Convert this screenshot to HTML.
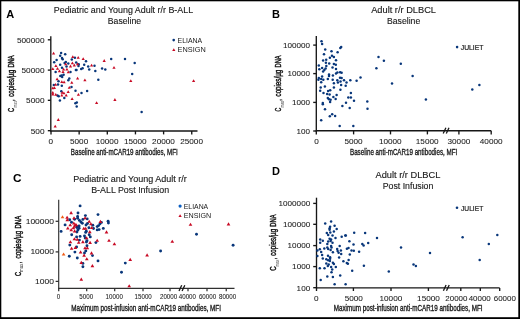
<!DOCTYPE html>
<html><head><meta charset="utf-8"><style>
html,body{margin:0;padding:0;background:#fff;}
body{width:520px;height:319px;overflow:hidden;}
svg{display:block;font-family:"Liberation Sans", sans-serif;filter:blur(0.25px);}
</style></head><body>
<svg width="520" height="319" viewBox="0 0 520 319">
<rect width="520" height="319" fill="#fff"/>
<rect x="0" y="0" width="1.3" height="319" fill="#000"/>
<rect x="0" y="0" width="520" height="1.3" fill="#000"/>
<rect x="518.3" y="0" width="1.7" height="319" fill="#000"/>
<rect x="0" y="317.2" width="520" height="1.8" fill="#000"/>
<text x="6.3" y="17.5" font-size="11" font-weight="bold" text-anchor="start" fill="#000">A</text>
<text x="272.0" y="17.7" font-size="11" font-weight="bold" text-anchor="start" fill="#000">B</text>
<text x="12.9" y="182.2" font-size="11.8" font-weight="bold" text-anchor="start" fill="#000">C</text>
<text x="272.0" y="174.8" font-size="11" font-weight="bold" text-anchor="start" fill="#000">D</text>
<text x="53.8" y="12.8" font-size="8.7" text-anchor="start" fill="#1a1a1a" textLength="139.3" lengthAdjust="spacingAndGlyphs" stroke="#111" stroke-width="0.12">Pediatric and Young Adult r/r B-ALL</text>
<text x="107.8" y="23.9" font-size="8.7" text-anchor="start" fill="#1a1a1a" textLength="33.3" lengthAdjust="spacingAndGlyphs" stroke="#111" stroke-width="0.12">Baseline</text>
<text x="371.2" y="12.6" font-size="8.7" text-anchor="start" fill="#1a1a1a" textLength="64.8" lengthAdjust="spacingAndGlyphs" stroke="#111" stroke-width="0.12">Adult r/r DLBCL</text>
<text x="387.0" y="24.2" font-size="8.7" text-anchor="start" fill="#1a1a1a" textLength="33.2" lengthAdjust="spacingAndGlyphs" stroke="#111" stroke-width="0.12">Baseline</text>
<text x="73.2" y="181.7" font-size="8.7" text-anchor="start" fill="#1a1a1a" textLength="113.5" lengthAdjust="spacingAndGlyphs" stroke="#111" stroke-width="0.12">Pediatric and Young Adult r/r</text>
<text x="91.2" y="193.3" font-size="8.7" text-anchor="start" fill="#1a1a1a" textLength="78.0" lengthAdjust="spacingAndGlyphs" stroke="#111" stroke-width="0.12">B-ALL Post Infusion</text>
<text x="375.5" y="177.5" font-size="8.7" text-anchor="start" fill="#1a1a1a" textLength="64.9" lengthAdjust="spacingAndGlyphs" stroke="#111" stroke-width="0.12">Adult r/r DLBCL</text>
<text x="382.7" y="188.5" font-size="8.7" text-anchor="start" fill="#1a1a1a" textLength="50.7" lengthAdjust="spacingAndGlyphs" stroke="#111" stroke-width="0.12">Post Infusion</text>
<line x1="50.8" y1="36.3" x2="50.8" y2="131.55" stroke="#161616" stroke-width="1.35"/>
<line x1="50.25" y1="131.0" x2="197.5" y2="131.0" stroke="#161616" stroke-width="1.35"/>
<line x1="47.8" y1="39.8" x2="50.8" y2="39.8" stroke="#161616" stroke-width="1.35"/>
<line x1="47.8" y1="70.1" x2="50.8" y2="70.1" stroke="#161616" stroke-width="1.35"/>
<line x1="47.8" y1="100.3" x2="50.8" y2="100.3" stroke="#161616" stroke-width="1.35"/>
<line x1="47.8" y1="130.7" x2="50.8" y2="130.7" stroke="#161616" stroke-width="1.35"/>
<text x="16.9" y="42.6" font-size="8.0" text-anchor="start" fill="#1a1a1a" textLength="27.6" lengthAdjust="spacingAndGlyphs" stroke="#1a1a1a" stroke-width="0.06">500000</text>
<text x="21.5" y="72.9" font-size="8.0" text-anchor="start" fill="#1a1a1a" textLength="23.0" lengthAdjust="spacingAndGlyphs" stroke="#1a1a1a" stroke-width="0.06">50000</text>
<text x="26.1" y="103.1" font-size="8.0" text-anchor="start" fill="#1a1a1a" textLength="18.4" lengthAdjust="spacingAndGlyphs" stroke="#1a1a1a" stroke-width="0.06">5000</text>
<text x="30.7" y="133.5" font-size="8.0" text-anchor="start" fill="#1a1a1a" textLength="13.8" lengthAdjust="spacingAndGlyphs" stroke="#1a1a1a" stroke-width="0.06">500</text>
<line x1="51.0" y1="131" x2="51.0" y2="134.4" stroke="#161616" stroke-width="1.35"/>
<line x1="79.15" y1="131" x2="79.15" y2="134.4" stroke="#161616" stroke-width="1.35"/>
<line x1="107.3" y1="131" x2="107.3" y2="134.4" stroke="#161616" stroke-width="1.35"/>
<line x1="135.45" y1="131" x2="135.45" y2="134.4" stroke="#161616" stroke-width="1.35"/>
<line x1="163.6" y1="131" x2="163.6" y2="134.4" stroke="#161616" stroke-width="1.35"/>
<line x1="191.75" y1="131" x2="191.75" y2="134.4" stroke="#161616" stroke-width="1.35"/>
<text x="48.52" y="143.8" font-size="8.0" text-anchor="start" fill="#1a1a1a" textLength="4.55" lengthAdjust="spacingAndGlyphs" stroke="#1a1a1a" stroke-width="0.06">0</text>
<text x="70.0" y="143.8" font-size="8.0" text-anchor="start" fill="#1a1a1a" textLength="18.2" lengthAdjust="spacingAndGlyphs" stroke="#1a1a1a" stroke-width="0.06">5000</text>
<text x="95.72" y="143.8" font-size="8.0" text-anchor="start" fill="#1a1a1a" textLength="22.75" lengthAdjust="spacingAndGlyphs" stroke="#1a1a1a" stroke-width="0.06">10000</text>
<text x="123.93" y="143.8" font-size="8.0" text-anchor="start" fill="#1a1a1a" textLength="22.75" lengthAdjust="spacingAndGlyphs" stroke="#1a1a1a" stroke-width="0.06">15000</text>
<text x="152.12" y="143.8" font-size="8.0" text-anchor="start" fill="#1a1a1a" textLength="22.75" lengthAdjust="spacingAndGlyphs" stroke="#1a1a1a" stroke-width="0.06">20000</text>
<text x="180.22" y="143.8" font-size="8.0" text-anchor="start" fill="#1a1a1a" textLength="22.75" lengthAdjust="spacingAndGlyphs" stroke="#1a1a1a" stroke-width="0.06">25000</text>
<text x="70.8" y="154.6" font-size="9.3" text-anchor="start" fill="#1a1a1a" textLength="106.9" lengthAdjust="spacingAndGlyphs" stroke="#1a1a1a" stroke-width="0.35">Baseline anti-mCAR19 antibodies, MFI</text>
<line x1="316.3" y1="36.1" x2="316.3" y2="131.55" stroke="#161616" stroke-width="1.35"/>
<line x1="315.75" y1="130.7" x2="491.2" y2="130.7" stroke="#161616" stroke-width="1.35"/>
<line x1="313.2" y1="45.1" x2="316.3" y2="45.1" stroke="#161616" stroke-width="1.35"/>
<line x1="313.2" y1="73.6" x2="316.3" y2="73.6" stroke="#161616" stroke-width="1.35"/>
<line x1="313.2" y1="102.4" x2="316.3" y2="102.4" stroke="#161616" stroke-width="1.35"/>
<line x1="313.2" y1="131.0" x2="316.3" y2="131.0" stroke="#161616" stroke-width="1.35"/>
<text x="283.0" y="47.9" font-size="8.0" text-anchor="start" fill="#1a1a1a" textLength="27.0" lengthAdjust="spacingAndGlyphs" stroke="#1a1a1a" stroke-width="0.06">100000</text>
<text x="287.5" y="76.4" font-size="8.0" text-anchor="start" fill="#1a1a1a" textLength="22.5" lengthAdjust="spacingAndGlyphs" stroke="#1a1a1a" stroke-width="0.06">10000</text>
<text x="292.0" y="105.2" font-size="8.0" text-anchor="start" fill="#1a1a1a" textLength="18.0" lengthAdjust="spacingAndGlyphs" stroke="#1a1a1a" stroke-width="0.06">1000</text>
<text x="296.5" y="133.8" font-size="8.0" text-anchor="start" fill="#1a1a1a" textLength="13.5" lengthAdjust="spacingAndGlyphs" stroke="#1a1a1a" stroke-width="0.06">100</text>
<line x1="316.3" y1="130.7" x2="316.3" y2="134.4" stroke="#161616" stroke-width="1.35"/>
<line x1="353.6" y1="130.7" x2="353.6" y2="134.4" stroke="#161616" stroke-width="1.35"/>
<line x1="390.5" y1="130.7" x2="390.5" y2="134.4" stroke="#161616" stroke-width="1.35"/>
<line x1="427.4" y1="130.7" x2="427.4" y2="134.4" stroke="#161616" stroke-width="1.35"/>
<line x1="458.9" y1="130.7" x2="458.9" y2="134.4" stroke="#161616" stroke-width="1.35"/>
<line x1="491.2" y1="130.7" x2="491.2" y2="134.4" stroke="#161616" stroke-width="1.35"/>
<text x="314.23" y="143.8" font-size="8.0" text-anchor="start" fill="#1a1a1a" textLength="4.55" lengthAdjust="spacingAndGlyphs" stroke="#1a1a1a" stroke-width="0.06">0</text>
<text x="344.4" y="143.8" font-size="8.0" text-anchor="start" fill="#1a1a1a" textLength="18.2" lengthAdjust="spacingAndGlyphs" stroke="#1a1a1a" stroke-width="0.06">5000</text>
<text x="378.93" y="143.8" font-size="8.0" text-anchor="start" fill="#1a1a1a" textLength="22.75" lengthAdjust="spacingAndGlyphs" stroke="#1a1a1a" stroke-width="0.06">10000</text>
<text x="415.82" y="143.8" font-size="8.0" text-anchor="start" fill="#1a1a1a" textLength="22.75" lengthAdjust="spacingAndGlyphs" stroke="#1a1a1a" stroke-width="0.06">15000</text>
<text x="447.52" y="143.8" font-size="8.0" text-anchor="start" fill="#1a1a1a" textLength="22.75" lengthAdjust="spacingAndGlyphs" stroke="#1a1a1a" stroke-width="0.06">30000</text>
<text x="479.82" y="143.8" font-size="8.0" text-anchor="start" fill="#1a1a1a" textLength="22.75" lengthAdjust="spacingAndGlyphs" stroke="#1a1a1a" stroke-width="0.06">40000</text>
<text x="350.0" y="154.7" font-size="9.3" text-anchor="start" fill="#1a1a1a" textLength="107.2" lengthAdjust="spacingAndGlyphs" stroke="#1a1a1a" stroke-width="0.35">Baseline anti-mCAR19 antibodies, MFI</text>
<line x1="58.7" y1="199.8" x2="58.7" y2="288.9" stroke="#303030" stroke-width="1.15"/>
<line x1="58.2" y1="288.35" x2="234.5" y2="288.35" stroke="#303030" stroke-width="1.15"/>
<line x1="55.6" y1="221.3" x2="58.7" y2="221.3" stroke="#303030" stroke-width="1.25"/>
<line x1="55.6" y1="251.9" x2="58.7" y2="251.9" stroke="#303030" stroke-width="1.25"/>
<line x1="55.6" y1="281.4" x2="58.7" y2="281.4" stroke="#303030" stroke-width="1.25"/>
<text x="25.68" y="223.7" font-size="8.0" text-anchor="start" fill="#1a1a1a" textLength="28.32" lengthAdjust="spacingAndGlyphs" stroke="#1a1a1a" stroke-width="0.06">100000</text>
<text x="30.4" y="254.3" font-size="8.0" text-anchor="start" fill="#1a1a1a" textLength="23.6" lengthAdjust="spacingAndGlyphs" stroke="#1a1a1a" stroke-width="0.06">10000</text>
<text x="35.12" y="283.8" font-size="8.0" text-anchor="start" fill="#1a1a1a" textLength="18.88" lengthAdjust="spacingAndGlyphs" stroke="#1a1a1a" stroke-width="0.06">1000</text>
<line x1="58.7" y1="288.35" x2="58.7" y2="291.3" stroke="#303030" stroke-width="1.25"/>
<line x1="86.7" y1="288.35" x2="86.7" y2="291.3" stroke="#303030" stroke-width="1.25"/>
<line x1="114.7" y1="288.35" x2="114.7" y2="291.3" stroke="#303030" stroke-width="1.25"/>
<line x1="143" y1="288.35" x2="143" y2="291.3" stroke="#303030" stroke-width="1.25"/>
<line x1="170" y1="288.35" x2="170" y2="291.3" stroke="#303030" stroke-width="1.25"/>
<line x1="188" y1="288.35" x2="188" y2="291.3" stroke="#303030" stroke-width="1.25"/>
<line x1="207" y1="288.35" x2="207" y2="291.3" stroke="#303030" stroke-width="1.25"/>
<line x1="226.25" y1="288.35" x2="226.25" y2="291.3" stroke="#303030" stroke-width="1.25"/>
<text x="56.67" y="298.8" font-size="6.5" text-anchor="start" fill="#1a1a1a" textLength="3.45" lengthAdjust="spacingAndGlyphs" stroke="#1a1a1a" stroke-width="0.06">0</text>
<text x="79.3" y="298.8" font-size="6.5" text-anchor="start" fill="#1a1a1a" textLength="13.8" lengthAdjust="spacingAndGlyphs" stroke="#1a1a1a" stroke-width="0.06">5000</text>
<text x="105.58" y="298.8" font-size="6.5" text-anchor="start" fill="#1a1a1a" textLength="17.25" lengthAdjust="spacingAndGlyphs" stroke="#1a1a1a" stroke-width="0.06">10000</text>
<text x="134.57" y="298.8" font-size="6.5" text-anchor="start" fill="#1a1a1a" textLength="17.25" lengthAdjust="spacingAndGlyphs" stroke="#1a1a1a" stroke-width="0.06">15000</text>
<text x="159.97" y="298.8" font-size="6.5" text-anchor="start" fill="#1a1a1a" textLength="17.25" lengthAdjust="spacingAndGlyphs" stroke="#1a1a1a" stroke-width="0.06">20000</text>
<text x="178.78" y="298.8" font-size="6.5" text-anchor="start" fill="#1a1a1a" textLength="17.25" lengthAdjust="spacingAndGlyphs" stroke="#1a1a1a" stroke-width="0.06">40000</text>
<text x="198.88" y="298.8" font-size="6.5" text-anchor="start" fill="#1a1a1a" textLength="17.25" lengthAdjust="spacingAndGlyphs" stroke="#1a1a1a" stroke-width="0.06">60000</text>
<text x="218.97" y="298.8" font-size="6.5" text-anchor="start" fill="#1a1a1a" textLength="17.25" lengthAdjust="spacingAndGlyphs" stroke="#1a1a1a" stroke-width="0.06">80000</text>
<text x="71.3" y="310.6" font-size="8.9" text-anchor="start" fill="#1a1a1a" textLength="149.7" lengthAdjust="spacingAndGlyphs" stroke="#1a1a1a" stroke-width="0.35">Maximum post-infusion anti-mCAR19 antibodies, MFI</text>
<line x1="316.5" y1="197.7" x2="316.5" y2="288.25" stroke="#161616" stroke-width="1.35"/>
<line x1="315.95" y1="287.9" x2="499.7" y2="287.9" stroke="#161616" stroke-width="1.35"/>
<line x1="313.2" y1="203.4" x2="316.5" y2="203.4" stroke="#161616" stroke-width="1.35"/>
<line x1="313.2" y1="224.3" x2="316.5" y2="224.3" stroke="#161616" stroke-width="1.35"/>
<line x1="313.2" y1="245.6" x2="316.5" y2="245.6" stroke="#161616" stroke-width="1.35"/>
<line x1="313.2" y1="266.6" x2="316.5" y2="266.6" stroke="#161616" stroke-width="1.35"/>
<line x1="313.2" y1="287.7" x2="316.5" y2="287.7" stroke="#161616" stroke-width="1.35"/>
<text x="278.56" y="206.2" font-size="8.0" text-anchor="start" fill="#1a1a1a" textLength="31.64" lengthAdjust="spacingAndGlyphs" stroke="#1a1a1a" stroke-width="0.06">1000000</text>
<text x="283.08" y="227.1" font-size="8.0" text-anchor="start" fill="#1a1a1a" textLength="27.12" lengthAdjust="spacingAndGlyphs" stroke="#1a1a1a" stroke-width="0.06">100000</text>
<text x="287.6" y="248.4" font-size="8.0" text-anchor="start" fill="#1a1a1a" textLength="22.6" lengthAdjust="spacingAndGlyphs" stroke="#1a1a1a" stroke-width="0.06">10000</text>
<text x="292.12" y="269.4" font-size="8.0" text-anchor="start" fill="#1a1a1a" textLength="18.08" lengthAdjust="spacingAndGlyphs" stroke="#1a1a1a" stroke-width="0.06">1000</text>
<text x="296.64" y="290.5" font-size="8.0" text-anchor="start" fill="#1a1a1a" textLength="13.56" lengthAdjust="spacingAndGlyphs" stroke="#1a1a1a" stroke-width="0.06">100</text>
<line x1="316.5" y1="287.9" x2="316.5" y2="291.0" stroke="#161616" stroke-width="1.35"/>
<line x1="353.4" y1="287.9" x2="353.4" y2="291.0" stroke="#161616" stroke-width="1.35"/>
<line x1="391" y1="287.9" x2="391" y2="291.0" stroke="#161616" stroke-width="1.35"/>
<line x1="428.4" y1="287.9" x2="428.4" y2="291.0" stroke="#161616" stroke-width="1.35"/>
<line x1="460.8" y1="287.9" x2="460.8" y2="291.0" stroke="#161616" stroke-width="1.35"/>
<line x1="480.3" y1="287.9" x2="480.3" y2="291.0" stroke="#161616" stroke-width="1.35"/>
<line x1="499.7" y1="287.9" x2="499.7" y2="291.0" stroke="#161616" stroke-width="1.35"/>
<text x="314.12" y="300.6" font-size="8.0" text-anchor="start" fill="#1a1a1a" textLength="4.55" lengthAdjust="spacingAndGlyphs" stroke="#1a1a1a" stroke-width="0.06">0</text>
<text x="344.65" y="300.6" font-size="8.0" text-anchor="start" fill="#1a1a1a" textLength="18.2" lengthAdjust="spacingAndGlyphs" stroke="#1a1a1a" stroke-width="0.06">5000</text>
<text x="379.52" y="300.6" font-size="8.0" text-anchor="start" fill="#1a1a1a" textLength="22.75" lengthAdjust="spacingAndGlyphs" stroke="#1a1a1a" stroke-width="0.06">10000</text>
<text x="417.12" y="300.6" font-size="8.0" text-anchor="start" fill="#1a1a1a" textLength="22.75" lengthAdjust="spacingAndGlyphs" stroke="#1a1a1a" stroke-width="0.06">15000</text>
<text x="445.35" y="300.6" font-size="8.0" text-anchor="start" fill="#1a1a1a" textLength="22.1" lengthAdjust="spacingAndGlyphs" stroke="#1a1a1a" stroke-width="0.06">20000</text>
<text x="468.65" y="300.6" font-size="8.0" text-anchor="start" fill="#1a1a1a" textLength="22.1" lengthAdjust="spacingAndGlyphs" stroke="#1a1a1a" stroke-width="0.06">40000</text>
<text x="493.75" y="300.6" font-size="8.0" text-anchor="start" fill="#1a1a1a" textLength="22.1" lengthAdjust="spacingAndGlyphs" stroke="#1a1a1a" stroke-width="0.06">60000</text>
<text x="333.7" y="310.9" font-size="8.8" text-anchor="start" fill="#1a1a1a" textLength="148.8" lengthAdjust="spacingAndGlyphs" stroke="#1a1a1a" stroke-width="0.35">Maximum post-infusion anti-mCAR19 antibodies, MFI</text>
<line x1="443.20" y1="133.50" x2="445.90" y2="127.70" stroke="#161616" stroke-width="1.3"/>
<line x1="446.30" y1="133.50" x2="449.00" y2="127.70" stroke="#161616" stroke-width="1.3"/>
<line x1="179.00" y1="291.10" x2="181.70" y2="285.30" stroke="#161616" stroke-width="1.3"/>
<line x1="182.10" y1="291.10" x2="184.80" y2="285.30" stroke="#161616" stroke-width="1.3"/>
<line x1="443.40" y1="290.80" x2="446.10" y2="285.00" stroke="#161616" stroke-width="1.3"/>
<line x1="446.50" y1="290.80" x2="449.20" y2="285.00" stroke="#161616" stroke-width="1.3"/>
<g transform="translate(14.3,112.0) rotate(-90)" fill="#1a1a1a" font-weight="normal" stroke="#111" stroke-width="0.45"><text x="0" y="0" font-size="8.9" textLength="4.0" lengthAdjust="spacingAndGlyphs">C</text><text x="4.5" y="2.8" font-size="4.6" font-weight="normal" stroke="none" fill="#444" textLength="6.4" lengthAdjust="spacingAndGlyphs">max</text><text x="11.1" y="0" font-size="8.9" textLength="1.6" lengthAdjust="spacingAndGlyphs">,</text><text x="15.20" y="0" font-size="8.9" textLength="17.80" lengthAdjust="spacingAndGlyphs">copies</text><text x="33.20" y="0" font-size="8.9" textLength="2.00" lengthAdjust="spacingAndGlyphs">/</text><text x="35.10" y="0" font-size="8.9" textLength="7.00" lengthAdjust="spacingAndGlyphs">µg</text><text x="44.40" y="0" font-size="8.9" textLength="12.30" lengthAdjust="spacingAndGlyphs">DNA</text></g>
<g transform="translate(281.0,111.4) rotate(-90)" fill="#1a1a1a" font-weight="normal" stroke="#111" stroke-width="0.45"><text x="0" y="0" font-size="8.9" textLength="3.8" lengthAdjust="spacingAndGlyphs">C</text><text x="3.9" y="3.1" font-size="4.6" font-weight="normal" stroke="none" fill="#444" textLength="6.6" lengthAdjust="spacingAndGlyphs">max</text><text x="10.7" y="0" font-size="8.9" textLength="1.6" lengthAdjust="spacingAndGlyphs">,</text><text x="15.00" y="0" font-size="8.9" textLength="17.63" lengthAdjust="spacingAndGlyphs">copies</text><text x="32.83" y="0" font-size="8.9" textLength="1.98" lengthAdjust="spacingAndGlyphs">/</text><text x="34.71" y="0" font-size="8.9" textLength="6.93" lengthAdjust="spacingAndGlyphs">µg</text><text x="43.92" y="0" font-size="8.9" textLength="12.18" lengthAdjust="spacingAndGlyphs">DNA</text></g>
<g transform="translate(21.0,276.0) rotate(-90)" fill="#1a1a1a" font-weight="normal" stroke="#111" stroke-width="0.45"><text x="0" y="0" font-size="9.3" textLength="4.1" lengthAdjust="spacingAndGlyphs">C</text><text x="4.0" y="1.7" font-size="6.2" font-weight="normal" stroke="none" fill="#222" textLength="8.3" lengthAdjust="spacingAndGlyphs">max</text><text x="12.6" y="0" font-size="9.3" textLength="1.6" lengthAdjust="spacingAndGlyphs">,</text><text x="17.50" y="0" font-size="9.3" textLength="18.31" lengthAdjust="spacingAndGlyphs">copies</text><text x="36.02" y="0" font-size="9.3" textLength="2.06" lengthAdjust="spacingAndGlyphs">/</text><text x="37.98" y="0" font-size="9.3" textLength="7.20" lengthAdjust="spacingAndGlyphs">µg</text><text x="47.54" y="0" font-size="9.3" textLength="12.66" lengthAdjust="spacingAndGlyphs">DNA</text></g>
<g transform="translate(275.8,270.8) rotate(-90)" fill="#1a1a1a" font-weight="normal" stroke="#111" stroke-width="0.45"><text x="0" y="0" font-size="8.9" textLength="4.4" lengthAdjust="spacingAndGlyphs">C</text><text x="4.3" y="3.1" font-size="4.6" font-weight="normal" stroke="none" fill="#444" textLength="6.9" lengthAdjust="spacingAndGlyphs">max</text><text x="11.399999999999999" y="0" font-size="8.9" textLength="1.6" lengthAdjust="spacingAndGlyphs">,</text><text x="15.10" y="0" font-size="8.9" textLength="17.71" lengthAdjust="spacingAndGlyphs">copies</text><text x="33.01" y="0" font-size="8.9" textLength="1.99" lengthAdjust="spacingAndGlyphs">/</text><text x="34.90" y="0" font-size="8.9" textLength="6.97" lengthAdjust="spacingAndGlyphs">µg</text><text x="44.16" y="0" font-size="8.9" textLength="12.24" lengthAdjust="spacingAndGlyphs">DNA</text></g>
<circle cx="173.7" cy="40.1" r="1.3" fill="#08367a"/>
<text x="177.6" y="42.6" font-size="7.2" text-anchor="start" fill="#1a1a1a" textLength="24.6" lengthAdjust="spacingAndGlyphs">ELIANA</text>
<path d="M172.20 51.10L175.40 51.10L173.80 48.30Z" fill="#c80a24"/>
<text x="177.6" y="52.3" font-size="7.2" text-anchor="start" fill="#1a1a1a" textLength="28.1" lengthAdjust="spacingAndGlyphs">ENSIGN</text>
<circle cx="457.1" cy="47.1" r="1.3" fill="#08367a"/>
<text x="460.8" y="49.9" font-size="7.4" text-anchor="start" fill="#1a1a1a" textLength="22.6" lengthAdjust="spacingAndGlyphs" stroke="#1a1a1a" stroke-width="0.2">JULIET</text>
<circle cx="457.0" cy="207.7" r="1.3" fill="#08367a"/>
<text x="461.0" y="210.7" font-size="7.4" text-anchor="start" fill="#1a1a1a" textLength="22.2" lengthAdjust="spacingAndGlyphs" stroke="#1a1a1a" stroke-width="0.2">JULIET</text>
<circle cx="180.1" cy="206.1" r="1.6" fill="#0a5ec2"/>
<text x="183.8" y="208.5" font-size="7.2" text-anchor="start" fill="#1a1a1a" textLength="24.4" lengthAdjust="spacingAndGlyphs">ELIANA</text>
<path d="M178.45 216.95L181.75 216.95L180.10 214.25Z" fill="#c80a24"/>
<text x="183.8" y="218.1" font-size="7.2" text-anchor="start" fill="#1a1a1a" textLength="27.4" lengthAdjust="spacingAndGlyphs">ENSIGN</text>
<circle cx="61.1" cy="52.9" r="1.25" fill="#08367a"/>
<circle cx="65.2" cy="54.2" r="1.25" fill="#08367a"/>
<circle cx="60.2" cy="55.8" r="1.25" fill="#08367a"/>
<circle cx="62.0" cy="57.9" r="1.25" fill="#08367a"/>
<circle cx="62.7" cy="59.3" r="1.25" fill="#08367a"/>
<circle cx="74.9" cy="57.8" r="1.25" fill="#08367a"/>
<circle cx="71.8" cy="59.5" r="1.25" fill="#08367a"/>
<circle cx="56.6" cy="60.0" r="1.25" fill="#08367a"/>
<circle cx="54.2" cy="62.3" r="1.25" fill="#08367a"/>
<circle cx="64.6" cy="63.0" r="1.25" fill="#08367a"/>
<circle cx="68.3" cy="63.6" r="1.25" fill="#08367a"/>
<circle cx="76.2" cy="62.4" r="1.25" fill="#08367a"/>
<circle cx="78.7" cy="64.2" r="1.25" fill="#08367a"/>
<circle cx="78.5" cy="66.0" r="1.25" fill="#08367a"/>
<circle cx="60.2" cy="64.8" r="1.25" fill="#08367a"/>
<circle cx="86.0" cy="61.2" r="1.25" fill="#08367a"/>
<circle cx="84.2" cy="64.7" r="1.25" fill="#08367a"/>
<circle cx="94.5" cy="65.8" r="1.25" fill="#08367a"/>
<circle cx="88.2" cy="66.6" r="1.25" fill="#08367a"/>
<circle cx="111.2" cy="59.1" r="1.25" fill="#08367a"/>
<circle cx="125.0" cy="58.9" r="1.25" fill="#08367a"/>
<circle cx="134.7" cy="62.9" r="1.25" fill="#08367a"/>
<circle cx="102.1" cy="68.4" r="1.25" fill="#08367a"/>
<circle cx="105.3" cy="69.5" r="1.25" fill="#08367a"/>
<circle cx="132.2" cy="74.0" r="1.25" fill="#08367a"/>
<circle cx="98.3" cy="79.7" r="1.25" fill="#08367a"/>
<circle cx="89.2" cy="69.4" r="1.25" fill="#08367a"/>
<circle cx="81.2" cy="68.9" r="1.25" fill="#08367a"/>
<circle cx="82.6" cy="68.3" r="1.25" fill="#08367a"/>
<circle cx="76.5" cy="69.9" r="1.25" fill="#08367a"/>
<circle cx="95.3" cy="71.1" r="1.25" fill="#08367a"/>
<circle cx="62.0" cy="67.8" r="1.25" fill="#08367a"/>
<circle cx="66.5" cy="66.5" r="1.25" fill="#08367a"/>
<circle cx="75.9" cy="70.0" r="1.25" fill="#08367a"/>
<circle cx="70.5" cy="71.9" r="1.25" fill="#08367a"/>
<circle cx="55.6" cy="71.9" r="1.25" fill="#08367a"/>
<circle cx="63.6" cy="74.7" r="1.25" fill="#08367a"/>
<circle cx="60.3" cy="76.1" r="1.25" fill="#08367a"/>
<circle cx="62.2" cy="77.1" r="1.25" fill="#08367a"/>
<circle cx="69.3" cy="78.5" r="1.25" fill="#08367a"/>
<circle cx="68.3" cy="80.3" r="1.25" fill="#08367a"/>
<circle cx="58.5" cy="81.3" r="1.25" fill="#08367a"/>
<circle cx="58.0" cy="84.6" r="1.25" fill="#08367a"/>
<circle cx="53.8" cy="85.0" r="1.25" fill="#08367a"/>
<circle cx="61.8" cy="85.7" r="1.25" fill="#08367a"/>
<circle cx="71.5" cy="87.0" r="1.25" fill="#08367a"/>
<circle cx="61.3" cy="91.2" r="1.25" fill="#08367a"/>
<circle cx="75.5" cy="90.7" r="1.25" fill="#08367a"/>
<circle cx="57.5" cy="95.4" r="1.25" fill="#08367a"/>
<circle cx="58.7" cy="96.2" r="1.25" fill="#08367a"/>
<circle cx="64.3" cy="98.0" r="1.25" fill="#08367a"/>
<circle cx="59.9" cy="100.4" r="1.25" fill="#08367a"/>
<circle cx="75.4" cy="103.3" r="1.25" fill="#08367a"/>
<circle cx="76.8" cy="102.5" r="1.25" fill="#08367a"/>
<circle cx="76.7" cy="106.6" r="1.25" fill="#08367a"/>
<circle cx="81.5" cy="93.1" r="1.25" fill="#08367a"/>
<circle cx="87.1" cy="91.1" r="1.25" fill="#08367a"/>
<circle cx="141.6" cy="112.0" r="1.25" fill="#08367a"/>
<circle cx="65.8" cy="62.0" r="1.25" fill="#08367a"/>
<circle cx="61.6" cy="75.6" r="1.25" fill="#08367a"/>
<path d="M52.00 54.50L55.20 54.50L53.60 51.70Z" fill="#c80a24"/>
<path d="M71.20 58.10L74.40 58.10L72.80 55.30Z" fill="#c80a24"/>
<path d="M76.60 58.80L79.80 58.80L78.20 56.00Z" fill="#c80a24"/>
<path d="M64.10 65.30L67.30 65.30L65.70 62.50Z" fill="#c80a24"/>
<path d="M70.80 64.30L74.00 64.30L72.40 61.50Z" fill="#c80a24"/>
<path d="M72.70 66.40L75.90 66.40L74.30 63.60Z" fill="#c80a24"/>
<path d="M75.90 65.20L79.10 65.20L77.50 62.40Z" fill="#c80a24"/>
<path d="M54.30 67.10L57.50 67.10L55.90 64.30Z" fill="#c80a24"/>
<path d="M81.60 60.00L84.80 60.00L83.20 57.20Z" fill="#c80a24"/>
<path d="M102.60 61.90L105.80 61.90L104.20 59.10Z" fill="#c80a24"/>
<path d="M90.00 66.50L93.20 66.50L91.60 63.70Z" fill="#c80a24"/>
<path d="M112.40 68.80L115.60 68.80L114.00 66.00Z" fill="#c80a24"/>
<path d="M129.20 82.10L132.40 82.10L130.80 79.30Z" fill="#c80a24"/>
<path d="M192.00 82.10L195.20 82.10L193.60 79.30Z" fill="#c80a24"/>
<path d="M76.00 79.50L79.20 79.50L77.60 76.70Z" fill="#c80a24"/>
<path d="M83.30 81.20L86.50 81.20L84.90 78.40Z" fill="#c80a24"/>
<path d="M51.20 70.00L54.40 70.00L52.80 67.20Z" fill="#c80a24"/>
<path d="M55.90 69.80L59.10 69.80L57.50 67.00Z" fill="#c80a24"/>
<path d="M62.00 70.50L65.20 70.50L63.60 67.70Z" fill="#c80a24"/>
<path d="M65.30 70.50L68.50 70.50L66.90 67.70Z" fill="#c80a24"/>
<path d="M57.80 72.30L61.00 72.30L59.40 69.50Z" fill="#c80a24"/>
<path d="M61.40 73.00L64.60 73.00L63.00 70.20Z" fill="#c80a24"/>
<path d="M66.70 73.30L69.90 73.30L68.30 70.50Z" fill="#c80a24"/>
<path d="M55.50 80.30L58.70 80.30L57.10 77.50Z" fill="#c80a24"/>
<path d="M60.20 83.00L63.40 83.00L61.80 80.20Z" fill="#c80a24"/>
<path d="M62.50 83.20L65.70 83.20L64.10 80.40Z" fill="#c80a24"/>
<path d="M70.20 83.80L73.40 83.80L71.80 81.00Z" fill="#c80a24"/>
<path d="M54.00 85.80L57.20 85.80L55.60 83.00Z" fill="#c80a24"/>
<path d="M67.70 88.70L70.90 88.70L69.30 85.90Z" fill="#c80a24"/>
<path d="M51.20 89.30L54.40 89.30L52.80 86.50Z" fill="#c80a24"/>
<path d="M52.80 89.00L56.00 89.00L54.40 86.20Z" fill="#c80a24"/>
<path d="M66.60 93.00L69.80 93.00L68.20 90.20Z" fill="#c80a24"/>
<path d="M60.60 93.80L63.80 93.80L62.20 91.00Z" fill="#c80a24"/>
<path d="M62.30 94.20L65.50 94.20L63.90 91.40Z" fill="#c80a24"/>
<path d="M51.20 93.80L54.40 93.80L52.80 91.00Z" fill="#c80a24"/>
<path d="M51.20 95.40L54.40 95.40L52.80 92.60Z" fill="#c80a24"/>
<path d="M54.20 95.70L57.40 95.70L55.80 92.90Z" fill="#c80a24"/>
<path d="M60.20 96.60L63.40 96.60L61.80 93.80Z" fill="#c80a24"/>
<path d="M64.60 96.50L67.80 96.50L66.20 93.70Z" fill="#c80a24"/>
<path d="M76.80 95.70L80.00 95.70L78.40 92.90Z" fill="#c80a24"/>
<path d="M70.50 100.00L73.70 100.00L72.10 97.20Z" fill="#c80a24"/>
<path d="M95.00 104.10L98.20 104.10L96.60 101.30Z" fill="#c80a24"/>
<path d="M56.70 120.90L59.90 120.90L58.30 118.10Z" fill="#c80a24"/>
<path d="M53.60 127.50L56.80 127.50L55.20 124.70Z" fill="#c80a24"/>
<path d="M113.30 100.90L116.50 100.90L114.90 98.10Z" fill="#c80a24"/>
<path d="M68.90 67.40L72.10 67.40L70.50 64.60Z" fill="#c80a24"/>
<circle cx="321.5" cy="41.2" r="1.25" fill="#08367a"/>
<circle cx="322.1" cy="44.0" r="1.25" fill="#08367a"/>
<circle cx="340.3" cy="48.0" r="1.25" fill="#08367a"/>
<circle cx="341.2" cy="47.1" r="1.25" fill="#08367a"/>
<circle cx="325.2" cy="49.6" r="1.25" fill="#08367a"/>
<circle cx="331.5" cy="51.2" r="1.25" fill="#08367a"/>
<circle cx="337.6" cy="52.2" r="1.25" fill="#08367a"/>
<circle cx="324.0" cy="54.2" r="1.25" fill="#08367a"/>
<circle cx="332.0" cy="55.8" r="1.25" fill="#08367a"/>
<circle cx="333.9" cy="56.9" r="1.25" fill="#08367a"/>
<circle cx="329.9" cy="57.8" r="1.25" fill="#08367a"/>
<circle cx="326.2" cy="59.7" r="1.25" fill="#08367a"/>
<circle cx="323.1" cy="60.6" r="1.25" fill="#08367a"/>
<circle cx="336.0" cy="60.3" r="1.25" fill="#08367a"/>
<circle cx="325.9" cy="62.7" r="1.25" fill="#08367a"/>
<circle cx="329.2" cy="63.6" r="1.25" fill="#08367a"/>
<circle cx="333.9" cy="64.0" r="1.25" fill="#08367a"/>
<circle cx="335.8" cy="64.8" r="1.25" fill="#08367a"/>
<circle cx="318.8" cy="65.6" r="1.25" fill="#08367a"/>
<circle cx="326.3" cy="65.9" r="1.25" fill="#08367a"/>
<circle cx="325.6" cy="68.6" r="1.25" fill="#08367a"/>
<circle cx="324.3" cy="70.0" r="1.25" fill="#08367a"/>
<circle cx="323.1" cy="71.4" r="1.25" fill="#08367a"/>
<circle cx="322.1" cy="68.1" r="1.25" fill="#08367a"/>
<circle cx="319.3" cy="69.3" r="1.25" fill="#08367a"/>
<circle cx="332.5" cy="67.5" r="1.25" fill="#08367a"/>
<circle cx="336.0" cy="69.1" r="1.25" fill="#08367a"/>
<circle cx="340.1" cy="72.2" r="1.25" fill="#08367a"/>
<circle cx="341.6" cy="72.8" r="1.25" fill="#08367a"/>
<circle cx="336.0" cy="73.6" r="1.25" fill="#08367a"/>
<circle cx="337.4" cy="72.6" r="1.25" fill="#08367a"/>
<circle cx="329.0" cy="74.4" r="1.25" fill="#08367a"/>
<circle cx="329.0" cy="75.9" r="1.25" fill="#08367a"/>
<circle cx="332.9" cy="75.4" r="1.25" fill="#08367a"/>
<circle cx="322.1" cy="76.6" r="1.25" fill="#08367a"/>
<circle cx="318.8" cy="78.0" r="1.25" fill="#08367a"/>
<circle cx="318.4" cy="79.7" r="1.25" fill="#08367a"/>
<circle cx="321.2" cy="79.1" r="1.25" fill="#08367a"/>
<circle cx="323.3" cy="79.7" r="1.25" fill="#08367a"/>
<circle cx="327.8" cy="78.9" r="1.25" fill="#08367a"/>
<circle cx="332.7" cy="79.7" r="1.25" fill="#08367a"/>
<circle cx="340.0" cy="77.8" r="1.25" fill="#08367a"/>
<circle cx="341.6" cy="78.0" r="1.25" fill="#08367a"/>
<circle cx="337.3" cy="80.2" r="1.25" fill="#08367a"/>
<circle cx="337.9" cy="82.5" r="1.25" fill="#08367a"/>
<circle cx="340.5" cy="81.6" r="1.25" fill="#08367a"/>
<circle cx="344.0" cy="80.2" r="1.25" fill="#08367a"/>
<circle cx="321.2" cy="82.2" r="1.25" fill="#08367a"/>
<circle cx="333.9" cy="83.2" r="1.25" fill="#08367a"/>
<circle cx="341.1" cy="84.9" r="1.25" fill="#08367a"/>
<circle cx="345.7" cy="85.7" r="1.25" fill="#08367a"/>
<circle cx="324.9" cy="86.6" r="1.25" fill="#08367a"/>
<circle cx="320.7" cy="87.6" r="1.25" fill="#08367a"/>
<circle cx="333.9" cy="87.6" r="1.25" fill="#08367a"/>
<circle cx="340.4" cy="89.8" r="1.25" fill="#08367a"/>
<circle cx="320.2" cy="90.8" r="1.25" fill="#08367a"/>
<circle cx="328.1" cy="90.9" r="1.25" fill="#08367a"/>
<circle cx="330.2" cy="90.3" r="1.25" fill="#08367a"/>
<circle cx="360.5" cy="77.4" r="1.25" fill="#08367a"/>
<circle cx="350.3" cy="80.2" r="1.25" fill="#08367a"/>
<circle cx="356.6" cy="80.7" r="1.25" fill="#08367a"/>
<circle cx="346.5" cy="82.6" r="1.25" fill="#08367a"/>
<circle cx="350.9" cy="92.9" r="1.25" fill="#08367a"/>
<circle cx="348.3" cy="97.6" r="1.25" fill="#08367a"/>
<circle cx="350.9" cy="97.6" r="1.25" fill="#08367a"/>
<circle cx="378.5" cy="57.0" r="1.25" fill="#08367a"/>
<circle cx="383.9" cy="60.7" r="1.25" fill="#08367a"/>
<circle cx="400.8" cy="63.7" r="1.25" fill="#08367a"/>
<circle cx="376.4" cy="68.2" r="1.25" fill="#08367a"/>
<circle cx="412.6" cy="75.9" r="1.25" fill="#08367a"/>
<circle cx="392.0" cy="83.5" r="1.25" fill="#08367a"/>
<circle cx="354.0" cy="100.8" r="1.25" fill="#08367a"/>
<circle cx="346.0" cy="102.7" r="1.25" fill="#08367a"/>
<circle cx="367.3" cy="101.4" r="1.25" fill="#08367a"/>
<circle cx="349.7" cy="107.9" r="1.25" fill="#08367a"/>
<circle cx="367.5" cy="108.8" r="1.25" fill="#08367a"/>
<circle cx="323.5" cy="92.9" r="1.25" fill="#08367a"/>
<circle cx="327.1" cy="94.1" r="1.25" fill="#08367a"/>
<circle cx="329.6" cy="94.4" r="1.25" fill="#08367a"/>
<circle cx="336.6" cy="94.9" r="1.25" fill="#08367a"/>
<circle cx="333.4" cy="96.9" r="1.25" fill="#08367a"/>
<circle cx="335.6" cy="99.1" r="1.25" fill="#08367a"/>
<circle cx="327.8" cy="97.9" r="1.25" fill="#08367a"/>
<circle cx="329.0" cy="99.3" r="1.25" fill="#08367a"/>
<circle cx="330.6" cy="99.8" r="1.25" fill="#08367a"/>
<circle cx="330.1" cy="101.9" r="1.25" fill="#08367a"/>
<circle cx="322.8" cy="103.1" r="1.25" fill="#08367a"/>
<circle cx="322.8" cy="104.2" r="1.25" fill="#08367a"/>
<circle cx="342.4" cy="105.9" r="1.25" fill="#08367a"/>
<circle cx="325.0" cy="109.3" r="1.25" fill="#08367a"/>
<circle cx="332.2" cy="114.2" r="1.25" fill="#08367a"/>
<circle cx="329.8" cy="116.3" r="1.25" fill="#08367a"/>
<circle cx="335.1" cy="116.0" r="1.25" fill="#08367a"/>
<circle cx="321.2" cy="120.2" r="1.25" fill="#08367a"/>
<circle cx="339.7" cy="126.1" r="1.25" fill="#08367a"/>
<circle cx="353.3" cy="126.1" r="1.25" fill="#08367a"/>
<circle cx="425.9" cy="99.4" r="1.25" fill="#08367a"/>
<circle cx="472.3" cy="89.6" r="1.25" fill="#08367a"/>
<circle cx="479.4" cy="84.9" r="1.25" fill="#08367a"/>
<circle cx="80.1" cy="205.9" r="1.45" fill="#08367a"/>
<circle cx="78.0" cy="213.0" r="1.45" fill="#08367a"/>
<circle cx="69.7" cy="219.7" r="1.45" fill="#08367a"/>
<circle cx="74.6" cy="219.3" r="1.45" fill="#08367a"/>
<circle cx="77.6" cy="216.4" r="1.45" fill="#08367a"/>
<circle cx="77.7" cy="218.2" r="1.45" fill="#08367a"/>
<circle cx="85.4" cy="215.6" r="1.45" fill="#08367a"/>
<circle cx="82.9" cy="219.4" r="1.45" fill="#08367a"/>
<circle cx="87.2" cy="218.9" r="1.45" fill="#08367a"/>
<circle cx="79.4" cy="220.4" r="1.45" fill="#08367a"/>
<circle cx="80.9" cy="222.0" r="1.45" fill="#08367a"/>
<circle cx="82.3" cy="223.2" r="1.45" fill="#08367a"/>
<circle cx="71.5" cy="222.2" r="1.45" fill="#08367a"/>
<circle cx="65.1" cy="224.9" r="1.45" fill="#08367a"/>
<circle cx="77.0" cy="226.6" r="1.45" fill="#08367a"/>
<circle cx="87.5" cy="223.5" r="1.45" fill="#08367a"/>
<circle cx="86.0" cy="225.0" r="1.45" fill="#08367a"/>
<circle cx="92.8" cy="225.3" r="1.45" fill="#08367a"/>
<circle cx="79.1" cy="226.0" r="1.45" fill="#08367a"/>
<circle cx="76.9" cy="227.5" r="1.45" fill="#08367a"/>
<circle cx="79.1" cy="228.2" r="1.45" fill="#08367a"/>
<circle cx="88.9" cy="227.8" r="1.45" fill="#08367a"/>
<circle cx="93.5" cy="228.5" r="1.45" fill="#08367a"/>
<circle cx="77.9" cy="230.0" r="1.45" fill="#08367a"/>
<circle cx="76.9" cy="232.0" r="1.45" fill="#08367a"/>
<circle cx="86.3" cy="231.3" r="1.45" fill="#08367a"/>
<circle cx="85.7" cy="232.4" r="1.45" fill="#08367a"/>
<circle cx="89.2" cy="234.7" r="1.45" fill="#08367a"/>
<circle cx="80.1" cy="236.4" r="1.45" fill="#08367a"/>
<circle cx="84.5" cy="236.0" r="1.45" fill="#08367a"/>
<circle cx="90.3" cy="236.9" r="1.45" fill="#08367a"/>
<circle cx="85.2" cy="238.1" r="1.45" fill="#08367a"/>
<circle cx="76.6" cy="236.9" r="1.45" fill="#08367a"/>
<circle cx="98.0" cy="214.6" r="1.45" fill="#08367a"/>
<circle cx="108.1" cy="221.3" r="1.45" fill="#08367a"/>
<circle cx="108.4" cy="223.0" r="1.45" fill="#08367a"/>
<circle cx="101.4" cy="222.4" r="1.45" fill="#08367a"/>
<circle cx="100.0" cy="223.8" r="1.45" fill="#08367a"/>
<circle cx="98.6" cy="225.6" r="1.45" fill="#08367a"/>
<circle cx="97.2" cy="226.6" r="1.45" fill="#08367a"/>
<circle cx="97.2" cy="229.9" r="1.45" fill="#08367a"/>
<circle cx="99.1" cy="229.6" r="1.45" fill="#08367a"/>
<circle cx="103.3" cy="228.4" r="1.45" fill="#08367a"/>
<circle cx="95.9" cy="242.6" r="1.45" fill="#08367a"/>
<circle cx="61.1" cy="231.4" r="1.45" fill="#08367a"/>
<circle cx="71.7" cy="234.7" r="1.45" fill="#08367a"/>
<circle cx="79.4" cy="240.1" r="1.45" fill="#08367a"/>
<circle cx="87.0" cy="240.8" r="1.45" fill="#08367a"/>
<circle cx="86.4" cy="242.0" r="1.45" fill="#08367a"/>
<circle cx="69.8" cy="245.1" r="1.45" fill="#08367a"/>
<circle cx="76.6" cy="246.9" r="1.45" fill="#08367a"/>
<circle cx="87.0" cy="245.7" r="1.45" fill="#08367a"/>
<circle cx="85.8" cy="250.9" r="1.45" fill="#08367a"/>
<circle cx="74.9" cy="252.1" r="1.45" fill="#08367a"/>
<circle cx="84.5" cy="253.0" r="1.45" fill="#08367a"/>
<circle cx="69.3" cy="256.3" r="1.45" fill="#08367a"/>
<circle cx="77.3" cy="258.0" r="1.45" fill="#08367a"/>
<circle cx="82.9" cy="263.4" r="1.45" fill="#08367a"/>
<circle cx="82.9" cy="266.8" r="1.45" fill="#08367a"/>
<circle cx="92.5" cy="255.6" r="1.45" fill="#08367a"/>
<circle cx="98.0" cy="260.9" r="1.45" fill="#08367a"/>
<circle cx="160.6" cy="251.0" r="1.45" fill="#08367a"/>
<circle cx="125.3" cy="263.1" r="1.45" fill="#08367a"/>
<circle cx="121.5" cy="272.2" r="1.45" fill="#08367a"/>
<circle cx="196.5" cy="234.2" r="1.45" fill="#08367a"/>
<circle cx="233.1" cy="245.3" r="1.45" fill="#08367a"/>
<path d="M69.25 214.15L72.95 214.15L71.10 211.05Z" fill="#c80a24"/>
<path d="M60.65 218.25L64.35 218.25L62.50 215.15Z" fill="#f05a14"/>
<path d="M65.25 218.85L68.95 218.85L67.10 215.75Z" fill="#c80a24"/>
<path d="M65.45 221.15L69.15 221.15L67.30 218.05Z" fill="#c80a24"/>
<path d="M72.15 219.25L75.85 219.25L74.00 216.15Z" fill="#c80a24"/>
<path d="M83.25 219.25L86.95 219.25L85.10 216.15Z" fill="#c80a24"/>
<path d="M71.95 224.55L75.65 224.55L73.80 221.45Z" fill="#c80a24"/>
<path d="M73.35 226.05L77.05 226.05L75.20 222.95Z" fill="#c80a24"/>
<path d="M68.35 226.35L72.05 226.35L70.20 223.25Z" fill="#c80a24"/>
<path d="M65.95 229.55L69.65 229.55L67.80 226.45Z" fill="#c80a24"/>
<path d="M72.55 227.75L76.25 227.75L74.40 224.65Z" fill="#c80a24"/>
<path d="M87.35 222.85L91.05 222.85L89.20 219.75Z" fill="#c80a24"/>
<path d="M89.05 225.35L92.75 225.35L90.90 222.25Z" fill="#c80a24"/>
<path d="M74.45 226.25L78.15 226.25L76.30 223.15Z" fill="#c80a24"/>
<path d="M81.95 229.75L85.65 229.75L83.80 226.65Z" fill="#c80a24"/>
<path d="M83.85 229.75L87.55 229.75L85.70 226.65Z" fill="#c80a24"/>
<path d="M89.85 229.05L93.55 229.05L91.70 225.95Z" fill="#c80a24"/>
<path d="M87.95 233.15L91.65 233.15L89.80 230.05Z" fill="#c80a24"/>
<path d="M84.75 239.35L88.45 239.35L86.60 236.25Z" fill="#c80a24"/>
<path d="M75.45 240.85L79.15 240.85L77.30 237.75Z" fill="#c80a24"/>
<path d="M98.55 222.95L102.25 222.95L100.40 219.85Z" fill="#c80a24"/>
<path d="M104.65 233.45L108.35 233.45L106.50 230.35Z" fill="#c80a24"/>
<path d="M95.35 241.75L99.05 241.75L97.20 238.65Z" fill="#c80a24"/>
<path d="M107.15 241.75L110.85 241.75L109.00 238.65Z" fill="#c80a24"/>
<path d="M112.55 245.35L116.25 245.35L114.40 242.25Z" fill="#c80a24"/>
<path d="M71.55 229.35L75.25 229.35L73.40 226.25Z" fill="#c80a24"/>
<path d="M69.35 231.15L73.05 231.15L71.20 228.05Z" fill="#c80a24"/>
<path d="M72.75 232.45L76.45 232.45L74.60 229.35Z" fill="#c80a24"/>
<path d="M72.55 240.25L76.25 240.25L74.40 237.15Z" fill="#c80a24"/>
<path d="M68.55 243.25L72.25 243.25L70.40 240.15Z" fill="#c80a24"/>
<path d="M81.05 243.15L84.75 243.15L82.90 240.05Z" fill="#c80a24"/>
<path d="M76.85 243.75L80.55 243.75L78.70 240.65Z" fill="#c80a24"/>
<path d="M88.25 243.95L91.95 243.95L90.10 240.85Z" fill="#c80a24"/>
<path d="M69.75 249.75L73.45 249.75L71.60 246.65Z" fill="#c80a24"/>
<path d="M73.55 248.95L77.25 248.95L75.40 245.85Z" fill="#c80a24"/>
<path d="M83.15 249.25L86.85 249.25L85.00 246.15Z" fill="#c80a24"/>
<path d="M85.45 249.35L89.15 249.35L87.30 246.25Z" fill="#c80a24"/>
<path d="M78.75 253.45L82.45 253.45L80.60 250.35Z" fill="#c80a24"/>
<path d="M61.75 255.55L65.45 255.55L63.60 252.45Z" fill="#f05a14"/>
<path d="M82.25 256.65L85.95 256.65L84.10 253.55Z" fill="#c80a24"/>
<path d="M84.95 260.25L88.65 260.25L86.80 257.15Z" fill="#c80a24"/>
<path d="M79.45 263.95L83.15 263.95L81.30 260.85Z" fill="#c80a24"/>
<path d="M89.65 254.45L93.35 254.45L91.50 251.35Z" fill="#c80a24"/>
<path d="M90.55 267.15L94.25 267.15L92.40 264.05Z" fill="#c80a24"/>
<path d="M79.45 280.65L83.15 280.65L81.30 277.55Z" fill="#c80a24"/>
<path d="M145.25 256.45L148.95 256.45L147.10 253.35Z" fill="#c80a24"/>
<path d="M128.35 260.95L132.05 260.95L130.20 257.85Z" fill="#c80a24"/>
<path d="M127.35 287.35L131.05 287.35L129.20 284.25Z" fill="#c80a24"/>
<path d="M188.65 225.75L192.35 225.75L190.50 222.65Z" fill="#c80a24"/>
<path d="M226.65 225.45L230.35 225.45L228.50 222.35Z" fill="#c80a24"/>
<path d="M170.45 242.75L174.15 242.75L172.30 239.65Z" fill="#c80a24"/>
<circle cx="331.1" cy="221.5" r="1.25" fill="#08367a"/>
<circle cx="325.2" cy="223.4" r="1.25" fill="#08367a"/>
<circle cx="330.1" cy="226.7" r="1.25" fill="#08367a"/>
<circle cx="329.6" cy="228.3" r="1.25" fill="#08367a"/>
<circle cx="329.6" cy="229.8" r="1.25" fill="#08367a"/>
<circle cx="334.6" cy="225.8" r="1.25" fill="#08367a"/>
<circle cx="336.7" cy="229.0" r="1.25" fill="#08367a"/>
<circle cx="333.9" cy="231.4" r="1.25" fill="#08367a"/>
<circle cx="330.3" cy="232.4" r="1.25" fill="#08367a"/>
<circle cx="326.8" cy="233.0" r="1.25" fill="#08367a"/>
<circle cx="328.2" cy="234.9" r="1.25" fill="#08367a"/>
<circle cx="332.5" cy="235.6" r="1.25" fill="#08367a"/>
<circle cx="341.7" cy="236.8" r="1.25" fill="#08367a"/>
<circle cx="345.3" cy="235.6" r="1.25" fill="#08367a"/>
<circle cx="335.5" cy="238.0" r="1.25" fill="#08367a"/>
<circle cx="320.2" cy="239.5" r="1.25" fill="#08367a"/>
<circle cx="329.6" cy="238.7" r="1.25" fill="#08367a"/>
<circle cx="331.1" cy="239.4" r="1.25" fill="#08367a"/>
<circle cx="322.8" cy="240.8" r="1.25" fill="#08367a"/>
<circle cx="328.2" cy="241.5" r="1.25" fill="#08367a"/>
<circle cx="330.6" cy="241.1" r="1.25" fill="#08367a"/>
<circle cx="332.5" cy="242.7" r="1.25" fill="#08367a"/>
<circle cx="320.2" cy="242.7" r="1.25" fill="#08367a"/>
<circle cx="327.3" cy="243.9" r="1.25" fill="#08367a"/>
<circle cx="324.3" cy="248.6" r="1.25" fill="#08367a"/>
<circle cx="327.3" cy="247.6" r="1.25" fill="#08367a"/>
<circle cx="328.2" cy="249.1" r="1.25" fill="#08367a"/>
<circle cx="331.1" cy="246.0" r="1.25" fill="#08367a"/>
<circle cx="331.5" cy="247.6" r="1.25" fill="#08367a"/>
<circle cx="330.6" cy="250.0" r="1.25" fill="#08367a"/>
<circle cx="339.7" cy="246.1" r="1.25" fill="#08367a"/>
<circle cx="337.2" cy="249.1" r="1.25" fill="#08367a"/>
<circle cx="340.9" cy="250.5" r="1.25" fill="#08367a"/>
<circle cx="337.6" cy="250.9" r="1.25" fill="#08367a"/>
<circle cx="338.6" cy="252.8" r="1.25" fill="#08367a"/>
<circle cx="341.2" cy="253.9" r="1.25" fill="#08367a"/>
<circle cx="319.8" cy="249.2" r="1.25" fill="#08367a"/>
<circle cx="317.4" cy="250.5" r="1.25" fill="#08367a"/>
<circle cx="321.2" cy="252.1" r="1.25" fill="#08367a"/>
<circle cx="332.9" cy="252.3" r="1.25" fill="#08367a"/>
<circle cx="317.4" cy="256.1" r="1.25" fill="#08367a"/>
<circle cx="322.1" cy="254.9" r="1.25" fill="#08367a"/>
<circle cx="328.0" cy="255.8" r="1.25" fill="#08367a"/>
<circle cx="330.1" cy="257.3" r="1.25" fill="#08367a"/>
<circle cx="322.8" cy="258.4" r="1.25" fill="#08367a"/>
<circle cx="326.3" cy="259.2" r="1.25" fill="#08367a"/>
<circle cx="328.2" cy="260.3" r="1.25" fill="#08367a"/>
<circle cx="330.1" cy="258.8" r="1.25" fill="#08367a"/>
<circle cx="329.9" cy="260.9" r="1.25" fill="#08367a"/>
<circle cx="339.1" cy="257.6" r="1.25" fill="#08367a"/>
<circle cx="343.4" cy="261.2" r="1.25" fill="#08367a"/>
<circle cx="332.9" cy="262.7" r="1.25" fill="#08367a"/>
<circle cx="326.3" cy="263.4" r="1.25" fill="#08367a"/>
<circle cx="333.9" cy="264.1" r="1.25" fill="#08367a"/>
<circle cx="328.7" cy="264.6" r="1.25" fill="#08367a"/>
<circle cx="327.8" cy="266.0" r="1.25" fill="#08367a"/>
<circle cx="331.1" cy="266.9" r="1.25" fill="#08367a"/>
<circle cx="335.8" cy="266.9" r="1.25" fill="#08367a"/>
<circle cx="319.8" cy="268.2" r="1.25" fill="#08367a"/>
<circle cx="324.5" cy="268.2" r="1.25" fill="#08367a"/>
<circle cx="332.2" cy="269.5" r="1.25" fill="#08367a"/>
<circle cx="331.5" cy="272.3" r="1.25" fill="#08367a"/>
<circle cx="327.3" cy="276.6" r="1.25" fill="#08367a"/>
<circle cx="332.9" cy="277.0" r="1.25" fill="#08367a"/>
<circle cx="340.2" cy="275.4" r="1.25" fill="#08367a"/>
<circle cx="320.7" cy="280.1" r="1.25" fill="#08367a"/>
<circle cx="334.6" cy="284.3" r="1.25" fill="#08367a"/>
<circle cx="345.6" cy="284.3" r="1.25" fill="#08367a"/>
<circle cx="354.2" cy="232.7" r="1.25" fill="#08367a"/>
<circle cx="365.1" cy="233.1" r="1.25" fill="#08367a"/>
<circle cx="345.8" cy="235.5" r="1.25" fill="#08367a"/>
<circle cx="377.0" cy="237.9" r="1.25" fill="#08367a"/>
<circle cx="349.4" cy="241.2" r="1.25" fill="#08367a"/>
<circle cx="353.5" cy="244.6" r="1.25" fill="#08367a"/>
<circle cx="362.3" cy="244.1" r="1.25" fill="#08367a"/>
<circle cx="363.6" cy="245.6" r="1.25" fill="#08367a"/>
<circle cx="368.2" cy="243.0" r="1.25" fill="#08367a"/>
<circle cx="346.9" cy="248.7" r="1.25" fill="#08367a"/>
<circle cx="348.5" cy="248.1" r="1.25" fill="#08367a"/>
<circle cx="351.5" cy="250.6" r="1.25" fill="#08367a"/>
<circle cx="353.8" cy="250.8" r="1.25" fill="#08367a"/>
<circle cx="359.1" cy="251.8" r="1.25" fill="#08367a"/>
<circle cx="349.8" cy="254.6" r="1.25" fill="#08367a"/>
<circle cx="348.6" cy="260.1" r="1.25" fill="#08367a"/>
<circle cx="346.8" cy="262.9" r="1.25" fill="#08367a"/>
<circle cx="347.9" cy="263.7" r="1.25" fill="#08367a"/>
<circle cx="363.9" cy="265.7" r="1.25" fill="#08367a"/>
<circle cx="352.2" cy="270.7" r="1.25" fill="#08367a"/>
<circle cx="401.0" cy="247.4" r="1.25" fill="#08367a"/>
<circle cx="430.0" cy="253.1" r="1.25" fill="#08367a"/>
<circle cx="388.8" cy="271.6" r="1.25" fill="#08367a"/>
<circle cx="413.5" cy="264.4" r="1.25" fill="#08367a"/>
<circle cx="415.9" cy="266.1" r="1.25" fill="#08367a"/>
<circle cx="462.6" cy="237.3" r="1.25" fill="#08367a"/>
<circle cx="497.3" cy="235.1" r="1.25" fill="#08367a"/>
<circle cx="488.8" cy="243.9" r="1.25" fill="#08367a"/>
<circle cx="479.7" cy="260.1" r="1.25" fill="#08367a"/>
</svg></body></html>
